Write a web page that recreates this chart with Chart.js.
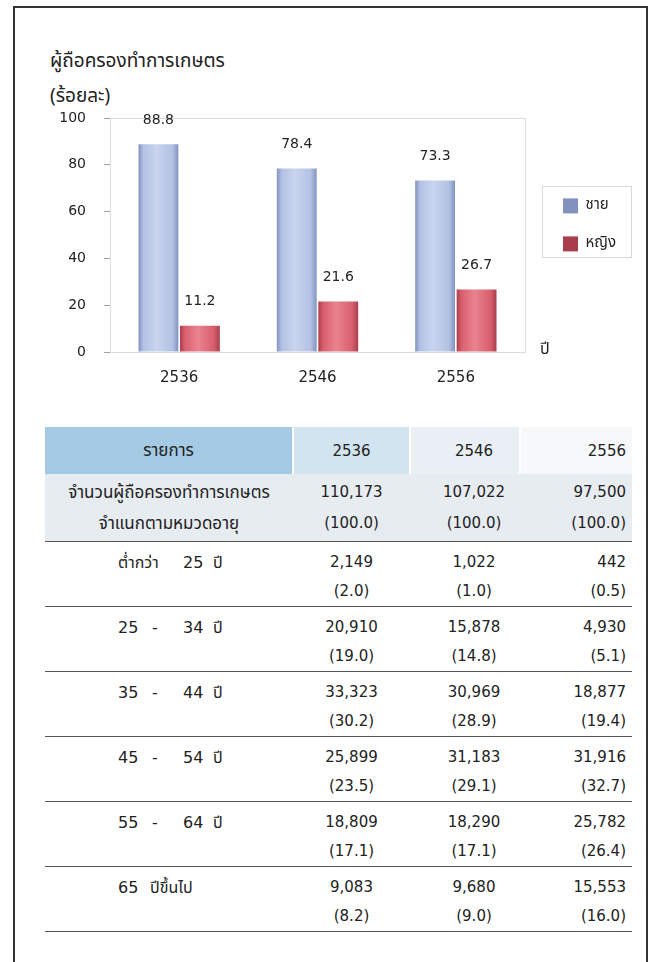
<!doctype html>
<html lang="th">
<head>
    <meta charset="utf-8">
    <title>ผู้ถือครองทำการเกษตร</title>
    <script src="https://cdn.jsdelivr.net/npm/chart.js@4.4.1/dist/chart.umd.min.js"></script>
    <style>
        body { margin: 0; width: 654px; height: 962px; background: #fff; position: relative; overflow: hidden;
               font-family: "DejaVu Sans", "Noto Sans Thai", Tahoma, sans-serif; color: #222; }
        #frame { position: absolute; left: 13px; top: 6px; width: 631px; height: 980px; border: 2px solid #333; }
        .caption { position: absolute; left: 50px; font-size: 19px; line-height: 24px;
                   font-family: "Noto Sans Thai", Tahoma, "DejaVu Sans", sans-serif; }
        #chartBox { position: absolute; left: 20px; top: 100px; width: 620px; height: 300px; }
        table { position: absolute; left: 45px; top: 427px; width: 587px; border-collapse: collapse; table-layout: fixed; }
        td { padding: 0; vertical-align: top; white-space: nowrap; }
        .num { font-size: 15px; text-align: center; }
        .c2 { padding-left: 18px; }
        .last { text-align: right; padding-right: 6px; }
        thead td { height: 47px; vertical-align: middle; text-align: center; font-size: 15px; border-left: 2px solid #fff; }
        thead td.lbl { font-size: 17px; }
        .total td { background: #e7ecf1; height: 67px; line-height: 31px; padding-top: 3px; box-sizing: border-box; }
        .total .lbl { text-align: center; font-size: 17px; }
        .age td { height: 65px; line-height: 29px; padding-top: 6px; box-sizing: border-box; }
        tr.total, tr.age { border-bottom: 1.5px solid #555; }
        .age .lbl { padding-left: 73px; font-size: 16px; }
        .age .lbl span { display: inline-block; }
    </style>
</head>
<body>
<div id="frame"></div>
<div class="caption" style="top:50px">ผู้ถือครองทำการเกษตร</div>
<div class="caption" style="top:85px">(ร้อยละ)</div>
<div id="chartBox"><canvas id="farmChart" width="620" height="300"></canvas></div>

<table>
    <colgroup>
        <col style="width:248px"><col style="width:117px"><col style="width:110px"><col style="width:112px">
    </colgroup>
    <thead>
    <tr>
        <td class="lbl" style="background:#a5cae3;border-left:0">รายการ</td>
        <td class="num" style="background:#d2e4ef">2536</td>
        <td class="num c2" style="background:#e9eff4">2546</td>
        <td class="num last" style="background:#f6f8fa">2556</td>
    </tr>
    </thead>
    <tbody id="rows"></tbody>
</table>

<script>
    // chart data
    const years = ['2536', '2546', '2556'];
    const male = [88.8, 78.4, 73.3];
    const female = [11.2, 21.6, 26.7];
    const seriesNames = ['ชาย', 'หญิง'];

    // table data
    const totalHolders = ['110,173', '107,022', '97,500'];
    const totalPercent = ['(100.0)', '(100.0)', '(100.0)'];
    const ageGroups = [
        ['ต่ำกว่า', '25', 'ปี'],
        ['25', '-', '34', 'ปี'],
        ['35', '-', '44', 'ปี'],
        ['45', '-', '54', 'ปี'],
        ['55', '-', '64', 'ปี'],
        ['65', 'ปีขึ้นไป']
    ];
    const ageCounts = [
        ['2,149', '1,022', '442'],
        ['20,910', '15,878', '4,930'],
        ['33,323', '30,969', '18,877'],
        ['25,899', '31,183', '31,916'],
        ['18,809', '18,290', '25,782'],
        ['9,083', '9,680', '15,553']
    ];
    const agePercent = [
        ['(2.0)', '(1.0)', '(0.5)'],
        ['(19.0)', '(14.8)', '(5.1)'],
        ['(30.2)', '(28.9)', '(19.4)'],
        ['(23.5)', '(29.1)', '(32.7)'],
        ['(17.1)', '(17.1)', '(26.4)'],
        ['(8.2)', '(9.0)', '(16.0)']
    ];

    function numCells(top, bottom) {
        const cls = ['num', 'num c2', 'num last'];
        let html = '';
        for (let i = 0; i < 3; i++) {
            html += '<td class="' + cls[i] + '">' + top[i] + '<br>' + bottom[i] + '</td>';
        }
        return html;
    }

    function labelHtml(parts) {
        if (parts.length === 4) {
            return '<span style="width:34px">' + parts[0] + '</span><span style="width:31px">' + parts[1] +
                '</span><span style="width:30px">' + parts[2] + '</span><span>' + parts[3] + '</span>';
        }
        if (parts.length === 3) {
            return '<span style="width:65px">' + parts[0] + '</span><span style="width:30px">' + parts[1] +
                '</span><span>' + parts[2] + '</span>';
        }
        return '<span style="width:32px">' + parts[0] + '</span><span>' + parts[1] + '</span>';
    }

    let rowsHtml = '<tr class="total"><td class="lbl">จำนวนผู้ถือครองทำการเกษตร<br>จำแนกตามหมวดอายุ</td>' +
        numCells(totalHolders, totalPercent) + '</tr>';
    for (let i = 0; i < ageGroups.length; i++) {
        rowsHtml += '<tr class="age"><td class="lbl">' + labelHtml(ageGroups[i]) + '</td>' +
            numCells(ageCounts[i], agePercent[i]) + '</tr>';
    }
    document.getElementById('rows').innerHTML = rowsHtml;

    const numFont = '"DejaVu Sans", Verdana, sans-serif';
    const thaiFont = '"Noto Sans Thai", Tahoma, "DejaVu Sans", sans-serif';

    // shaded bar fill, built from the element's own position
    function barShade(light, mid, dark) {
        return function (ctx) {
            const el = ctx.element;
            if (!el || el.x === undefined || isNaN(el.x)) return mid;
            const g = ctx.chart.ctx.createLinearGradient(el.x - el.width / 2, 0, el.x + el.width / 2, 0);
            g.addColorStop(0, dark);
            g.addColorStop(0.12, mid);
            g.addColorStop(0.45, light);
            g.addColorStop(0.85, mid);
            g.addColorStop(1, dark);
            return g;
        };
    }

    const extras = {
        id: 'extras',
        beforeDatasetsDraw(chart) {
            const a = chart.chartArea;
            const c = chart.ctx;
            c.save();
            c.strokeStyle = '#dcdcdc';
            c.lineWidth = 1;
            c.strokeRect(a.left + 0.5, a.top + 0.5, a.right - a.left, a.bottom - a.top);
            c.restore();
        },
        afterDatasetsDraw(chart) {
            const c = chart.ctx;
            c.save();
            c.font = '14px ' + numFont;
            c.fillStyle = '#222';
            c.textAlign = 'center';
            c.textBaseline = 'middle';
            chart.data.datasets.forEach(function (ds, di) {
                chart.getDatasetMeta(di).data.forEach(function (bar, i) {
                    c.fillText(ds.data[i].toFixed(1), bar.x, bar.y - 24);
                });
            });
            // axis title at the end of the category axis
            c.font = '16px ' + thaiFont;
            c.textAlign = 'left';
            c.fillText('ปี', chart.chartArea.right + 15, chart.chartArea.bottom - 1);
            c.restore();
        },
        afterDraw(chart) {
            const lg = chart.legend;
            if (!lg || !lg.legendHitBoxes.length) return;
            const boxes = lg.legendHitBoxes;
            const first = boxes[0], last = boxes[boxes.length - 1];
            const c = chart.ctx;
            c.save();
            c.strokeStyle = '#d8d8d8';
            c.lineWidth = 1;
            const top = Math.round(first.top) - 11.5;
            const bottom = Math.round(last.top + last.height) + 6.5;
            c.strokeRect(Math.round(first.left) - 20.5, top, 89, bottom - top);
            c.restore();
        }
    };

    const chart = new Chart(document.getElementById('farmChart'), {
        type: 'bar',
        data: {
            labels: years,
            datasets: [{
                label: seriesNames[0],
                data: male,
                backgroundColor: barShade('#c9d4ee', '#b2c2e4', '#8192bf'),
                borderWidth: 0
            }, {
                label: seriesNames[1],
                data: female,
                backgroundColor: barShade('#ea8390', '#d95e6d', '#a83e4c'),
                borderWidth: 0
            }]
        },
        options: {
            responsive: false,
            animation: false,
            layout: {padding: {left: 0, right: 14, top: 0, bottom: 0}},
            categoryPercentage: 0.6,
            barPercentage: 0.96,
            scales: {
                x: {
                    grid: {display: false, drawTicks: false},
                    border: {color: '#a0a0a0'},
                    ticks: {color: '#222', font: {family: numFont, size: 15}, padding: 17},
                    afterFit(scale) { scale.height = 48; }
                },
                y: {
                    min: 0,
                    max: 100,
                    grid: {color: 'rgba(0,0,0,0)', tickColor: '#a0a0a0', tickLength: 6},
                    border: {color: '#a0a0a0'},
                    ticks: {stepSize: 20, color: '#222', font: {family: numFont, size: 14}, padding: 18},
                    afterFit(scale) {
                        scale.width = 90;
                        scale.paddingTop = 18;
                    }
                },
                // empty spacer between plot and legend
                gap: {
                    axis: 'y',
                    position: 'right',
                    grid: {display: false, drawTicks: false},
                    border: {display: false},
                    ticks: {display: false},
                    afterFit(scale) { scale.width = 15; }
                }
            },
            plugins: {
                legend: {
                    position: 'right',
                    align: 'start',
                    title: {display: true, text: '', font: {size: 12}, padding: {top: 61, bottom: 0}},
                    labels: {
                        boxWidth: 15,
                        boxHeight: 15,
                        padding: 23,
                        color: '#222',
                        font: {family: thaiFont, size: 15}
                    }
                },
                tooltip: {enabled: false}
            }
        },
        plugins: [extras]
    });
    // second pass so the bar shading can use the laid-out positions
    chart.update('none');
</script>
</body>
</html>
